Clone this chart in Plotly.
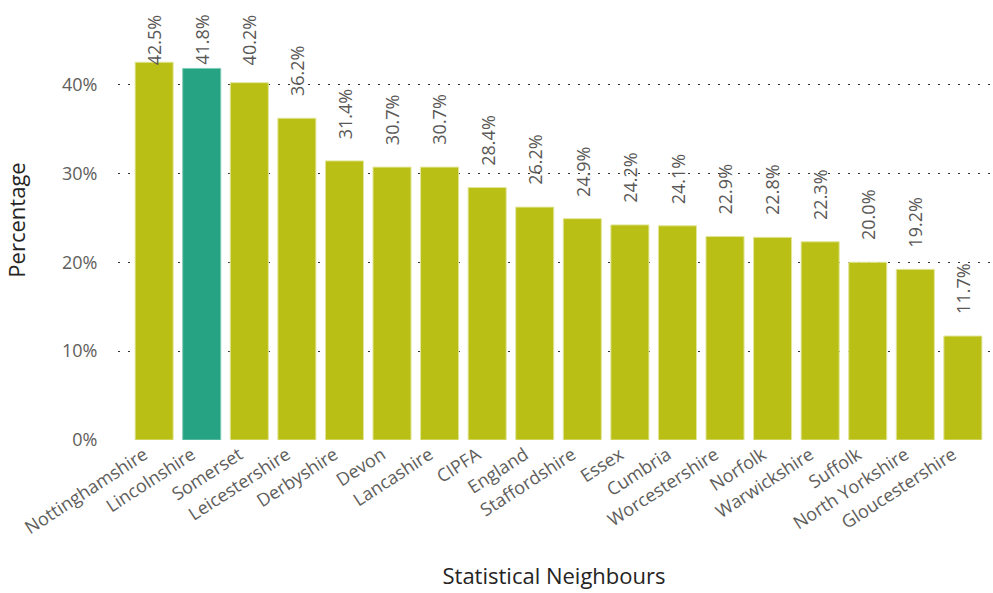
import plotly.graph_objects as go

categories = ["Nottinghamshire", "Lincolnshire", "Somerset", "Leicestershire", "Derbyshire",
              "Devon", "Lancashire", "CIPFA", "England", "Staffordshire", "Essex", "Cumbria",
              "Worcestershire", "Norfolk", "Warwickshire", "Suffolk", "North Yorkshire",
              "Gloucestershire"]
values = [42.5, 41.8, 40.2, 36.2, 31.4, 30.7, 30.7, 28.4, 26.2, 24.9, 24.2, 24.1,
          22.9, 22.8, 22.3, 20.0, 19.2, 11.7]
highlight = "Lincolnshire"
y_ticks = [0, 10, 20, 30, 40]
y_tick_labels = ["0%", "10%", "20%", "30%", "40%"]

base_color = "#B9BF15"
hi_color = "#26A383"
colors = [hi_color if c == highlight else base_color for c in categories]
line_colors = ["#7FCDB6" if c == highlight else "#E3E69A" for c in categories]

x_pos = list(range(len(categories)))

fig = go.Figure()
fig.add_trace(go.Bar(
    x=x_pos,
    y=values,
    marker=dict(color=colors, line=dict(color=line_colors, width=1)),
    width=0.8,
    hoverinfo="skip",
))

# data labels: above each bar, clamped below the top of the chart
label_cap = 39.7
for xi, v in zip(x_pos, values):
    fig.add_annotation(
        x=xi, y=min(v, label_cap), xref="x", yref="y",
        text=f"{v:.1f}%", showarrow=False, textangle=-90,
        yanchor="bottom", xanchor="center", yshift=20,
        font=dict(family="Open Sans, DejaVu Sans", size=18, color="#5A5856"),
    )

tick_font = dict(family="Open Sans, DejaVu Sans", size=18, color="#605E5C")
title_font = dict(family="Open Sans, DejaVu Sans", size=22, color="#252423")

fig.update_layout(
    width=993, height=593,
    margin=dict(l=118, r=3, t=0, b=153),
    paper_bgcolor="white", plot_bgcolor="white",
    showlegend=False,
    xaxis=dict(
        tickmode="array",
        tickvals=x_pos,
        ticktext=categories,
        tickangle=-33,
        ticklabelshift=-10,
        range=[-0.76, 17.57],
        showgrid=False, zeroline=False, showline=False,
        tickfont=tick_font,
        title=dict(text="Statistical Neighbours", font=title_font, standoff=30),
        automargin=False,
    ),
    yaxis=dict(
        range=[0, 49.5],
        tickmode="array",
        tickvals=y_ticks,
        ticktext=y_tick_labels,
        showgrid=True,
        gridcolor="#333333",
        griddash="2px,8px",
        gridwidth=1,
        zeroline=False,
        showline=False,
        ticks="outside",
        ticklen=16,
        tickcolor="rgba(0,0,0,0)",
        tickfont=tick_font,
        title=dict(text="Percentage", font=title_font, standoff=30),
        automargin=False,
        layer="below traces",
    ),
)

fig.write_html("out.html")
